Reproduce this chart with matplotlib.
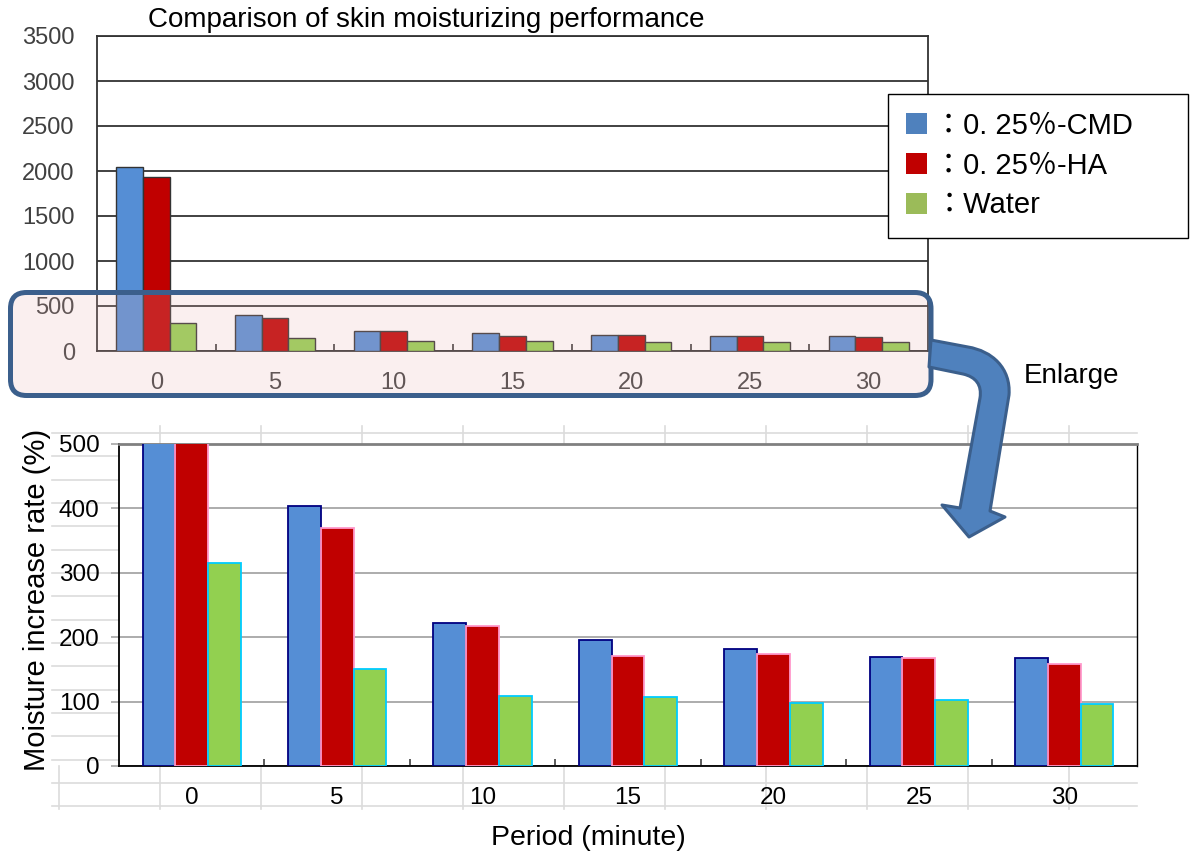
import matplotlib
matplotlib.use('Agg')
import matplotlib.pyplot as plt
import numpy as np
from matplotlib.patches import FancyBboxPatch, PathPatch, Patch
from matplotlib.path import Path

# ---------------- data ----------------
periods = ['0', '5', '10', '15', '20', '25', '30']
cmd = [2040, 403, 222, 195, 181, 170, 167]
ha = [1930, 369, 218, 171, 174, 167, 159]
water = [315, 150, 109, 107, 98, 103, 97]
series_names = ['：0. 25％-CMD', '：0. 25％-HA', '：Water']
top_yticks = [0, 500, 1000, 1500, 2000, 2500, 3000, 3500]
bottom_yticks = [0, 100, 200, 300, 400, 500]

plt.rcParams['font.family'] = ['Liberation Sans', 'Noto Sans CJK JP', 'DejaVu Sans']

W, H = 1191, 859
fig = plt.figure(figsize=(W / 100, H / 100), dpi=100)


def frac(x0, y0, x1, y1):
    """pixel box (y measured downward) -> figure fraction rect"""
    return [x0 / W, 1 - y1 / H, (x1 - x0) / W, (y1 - y0) / H]


# ---------------- background "spreadsheet" grid ----------------
bg = fig.add_axes([0, 0, 1, 1], zorder=0)
bg.set_xlim(0, W)
bg.set_ylim(H, 0)
bg.axis('off')
gcol = '#dcdcdc'
for yy in np.arange(433, 810, 23.33):
    if yy < 444 or yy > 766:
        bg.plot([52, 1137], [yy, yy], color=gcol, lw=1.2)
    else:
        bg.plot([52, 119], [yy, yy], color=gcol, lw=1.2)
for xx in np.arange(160, 1137, 101):
    bg.plot([xx, xx], [426, 444], color=gcol, lw=1.2)
    bg.plot([xx, xx], [766, 809], color=gcol, lw=1.2)
bg.plot([59, 59], [766, 809], color=gcol, lw=1.2)

x = np.arange(len(periods))
w = 0.225

# ---------------- top chart ----------------
ax1 = fig.add_axes(frac(97, 36, 928, 351), zorder=1)
ax1.bar(x - w, cmd, w, color='#558ed5', edgecolor='#333333', lw=1.0, zorder=3)
ax1.bar(x, ha, w, color='#c00000', edgecolor='#333333', lw=1.0, zorder=3)
ax1.bar(x + w, water, w, color='#92d050', edgecolor='#333333', lw=1.0, zorder=3)
ax1.set_xlim(-0.5, 6.5)
ax1.set_ylim(0, 3500)
ax1.set_yticks(top_yticks)
ax1.set_yticklabels([str(v) for v in top_yticks])
ax1.yaxis.grid(True, color='#333333', lw=1.3)
ax1.set_axisbelow(True)
for s in ax1.spines.values():
    s.set_color('#333333')
    s.set_linewidth(1.3)
ax1.tick_params(axis='y', length=0, pad=16, labelsize=17, labelcolor='#404040')
ax1.set_xticks(x)
ax1.set_xticklabels(periods)
ax1.tick_params(axis='x', which='major', length=0, pad=15, labelsize=17, labelcolor='#404040')
ax1.set_xticks(x[:-1] + 0.5, minor=True)
ax1.tick_params(axis='x', which='minor', direction='in', length=5, width=1.2, color='#333333')

# ---------------- bottom chart ----------------
ax2 = fig.add_axes(frac(119, 444, 1137, 766), zorder=1)
ax2.bar(x - w, cmd, w, color='#558ed5', edgecolor='#000080', lw=1.3, zorder=3)
ax2.bar(x, ha, w, color='#c00000', edgecolor='#ff99cc', lw=1.3, zorder=3)
ax2.bar(x + w, water, w, color='#92d050', edgecolor='#00ccff', lw=1.3, zorder=3)
ax2.set_xlim(-0.5, 6.5)
ax2.set_ylim(0, 500)
ax2.set_yticks(bottom_yticks)
ax2.set_yticklabels([str(v) for v in bottom_yticks])
ax2.yaxis.grid(True, color='#a6a6a6', lw=1.3)
ax2.set_axisbelow(True)
ax2.spines['top'].set_color('#808080')
ax2.spines['top'].set_linewidth(2.0)
ax2.spines['left'].set_color('black')
ax2.spines['left'].set_linewidth(1.3)
ax2.spines['bottom'].set_color('black')
ax2.spines['bottom'].set_linewidth(1.3)
ax2.spines['right'].set_color('black')
ax2.spines['right'].set_linewidth(1.0)
ax2.tick_params(axis='y', length=6, width=1.2, color='#a6a6a6', pad=8, labelsize=17.5)
ax2.set_xticks(x)
ax2.set_xticklabels(periods)
ax2.tick_params(axis='x', which='major', length=0, pad=15, labelsize=17.5)
ax2.set_xticks(x[:-1] + 0.5, minor=True)
ax2.tick_params(axis='x', which='minor', direction='in', length=5, width=1.2, color='#404040')

# ---------------- legend ----------------
handles = [Patch(facecolor=c, edgecolor='none') for c in ['#4f81bd', '#c00000', '#9bbb59']]
leg = fig.legend(handles, series_names, loc='upper left',
                 bbox_to_anchor=(888 / W, 1 - 94 / H, 300 / W, 0), mode='expand',
                 frameon=True, fancybox=False, edgecolor='black', framealpha=1,
                 fontsize=21, handlelength=0.72, handleheight=0.72, handletextpad=0.25,
                 labelspacing=0.4, borderpad=0.62, borderaxespad=0)
leg.get_frame().set_linewidth(1.0)

# ---------------- foreground overlay: box, arrow, texts ----------------
fg = fig.add_axes([0, 0, 1, 1], zorder=10)
fg.set_xlim(0, W)
fg.set_ylim(H, 0)
fg.axis('off')

box = FancyBboxPatch((10.5, 292.5), 920.5, 103,
                     boxstyle='round,pad=0,rounding_size=16',
                     facecolor=(0.91, 0.69, 0.69, 0.2), edgecolor='#3b5f8c', lw=3.6)
fg.add_patch(box)

verts = [(931, 340), (968, 347),
         (992, 351), (1011, 368), (1009, 395),
         (990, 511), (1005, 517), (969, 537), (942, 505), (960, 508),
         (980, 398),
         (982, 385), (976, 377), (963, 374),
         (929, 367), (931, 340)]
codes = [Path.MOVETO, Path.LINETO,
         Path.CURVE4, Path.CURVE4, Path.CURVE4,
         Path.LINETO, Path.LINETO, Path.LINETO, Path.LINETO, Path.LINETO,
         Path.LINETO,
         Path.CURVE4, Path.CURVE4, Path.CURVE4,
         Path.LINETO, Path.CLOSEPOLY]
arrow = PathPatch(Path(verts, codes), facecolor='#4f81bd', edgecolor='#3b5f8c',
                  lw=2.2, joinstyle='round')
fg.add_patch(arrow)

fg.text(1024, 383, 'Enlarge', fontsize=20, ha='left', va='baseline', color='black')
fg.text(148, 27, 'Comparison of skin moisturizing performance', fontsize=20,
        ha='left', va='baseline', color='black')
fg.text(37, 600, 'Moisture increase rate (%)', fontsize=21, rotation=90,
        ha='center', va='center', color='black')
fg.text(588, 838, 'Period (minute)', fontsize=20.5, ha='center', va='center', color='black')

fig.savefig('out.png', dpi=100)
